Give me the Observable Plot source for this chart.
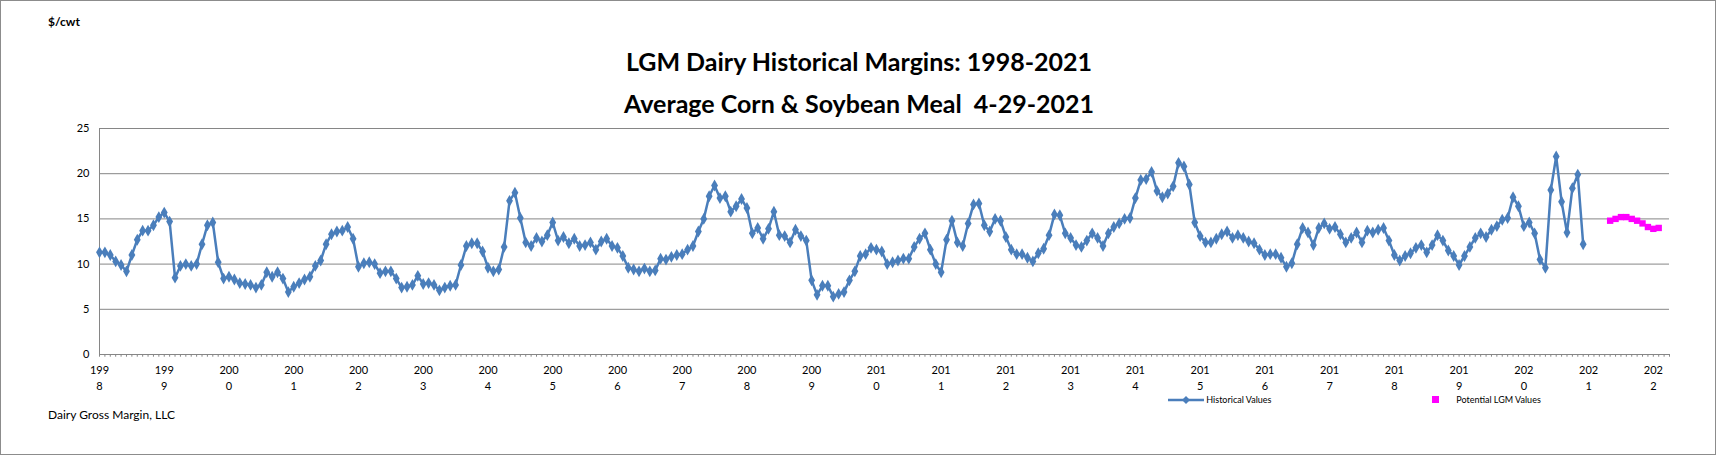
<!DOCTYPE html>
<html><head><meta charset="utf-8">
<script src="https://cdn.jsdelivr.net/npm/d3@7"></script>
<script src="https://cdn.jsdelivr.net/npm/@observablehq/plot@0.6"></script>
<style>
body{margin:0;background:#fff;font-family:Lato,"Open Sans",sans-serif}
#wrap{position:relative;width:1718px;height:457px;overflow:hidden}
#frame{position:absolute;left:0;top:0;width:1714px;height:453px;border:1px solid #8c8c8c}
.t{position:absolute;color:#000;white-space:nowrap}
</style></head><body>
<div id="wrap">
<div id="chart"></div>
<div id="frame"></div>
<div class="t" style="left:48px;top:14px;font-size:12px;font-weight:bold">$/cwt</div>
<div class="t" style="left:0;width:1718px;text-align:center;top:40px;font-size:25px;font-weight:bold;line-height:42px">LGM Dairy Historical Margins: 1998-2021<br>Average Corn &amp; Soybean Meal&nbsp; 4-29-2021</div>
<div class="t" style="left:48px;top:407px;font-size:12px">Dairy Gross Margin, LLC</div>
<div class="t" style="left:1168px;top:394px;font-size:9px;display:flex;align-items:center"><svg width="36" height="10"><line x1="0" y1="5" x2="36" y2="5" stroke="#4a7ebb" stroke-width="2.5"/><path d="M18 1 L22 5 L18 9 L14 5Z" fill="#4a7ebb"/></svg>&nbsp;Historical Values</div>
<div class="t" style="left:1418px;top:394px;font-size:9px;display:flex;align-items:center"><svg width="36" height="10"><rect x="14" y="1" width="7" height="7" fill="#ff00ff"/></svg>&nbsp;Potential LGM Values</div>
</div>
<script>
const startYear = 1998;
const historical = [
 11.3,11.3,11.0,10.3,9.9,9.2,11.0,12.7,13.7,13.7,14.3,15.2,
 15.7,14.7,8.5,9.8,10.0,9.8,10.0,12.2,14.3,14.6,10.2,8.4,
 8.6,8.3,7.9,7.8,7.7,7.4,7.7,9.1,8.6,9.1,8.4,6.9,
 7.5,7.9,8.3,8.6,9.8,10.4,12.2,13.3,13.6,13.7,14.1,12.8,
 9.7,10.1,10.2,10.0,9.0,9.2,9.2,8.4,7.4,7.5,7.7,8.7,
 7.8,7.9,7.7,7.1,7.4,7.6,7.7,9.9,12.0,12.3,12.3,11.4,
 9.6,9.2,9.4,11.9,17.0,17.9,15.1,12.4,12.0,12.9,12.5,13.2,
 14.6,12.6,13.0,12.3,12.8,12.0,12.1,12.4,11.6,12.5,12.8,12.0,
 11.8,10.9,9.6,9.4,9.2,9.5,9.2,9.3,10.6,10.5,10.8,11.0,
 11.1,11.6,12.0,13.6,15.0,17.5,18.7,17.3,17.5,15.8,16.4,17.2,
 16.2,13.4,14.0,12.8,13.9,15.8,13.2,13.1,12.4,13.8,13.1,12.6,
 8.2,6.6,7.6,7.6,6.4,6.7,6.9,8.2,9.2,10.9,11.1,11.8,
 11.6,11.4,10.0,10.2,10.4,10.6,10.6,11.9,12.8,13.4,11.6,10.0,
 9.1,12.7,14.8,12.4,12.0,14.5,16.6,16.7,14.3,13.6,15.0,14.8,
 13.0,11.6,11.1,11.1,10.7,10.3,11.2,11.7,13.2,15.5,15.4,13.4,
 12.9,12.1,11.9,12.6,13.4,12.9,12.0,13.4,14.1,14.5,15.0,15.1,
 17.3,19.3,19.4,20.2,18.1,17.4,17.8,18.6,21.2,20.8,18.8,14.6,
 13.1,12.4,12.4,12.8,13.3,13.6,12.9,13.2,12.9,12.5,12.3,11.6,
 11.0,11.1,11.1,10.7,9.7,10.1,12.2,14.0,13.5,12.1,14.0,14.5,
 13.9,14.1,13.3,12.4,12.9,13.5,12.4,13.7,13.5,13.8,14.0,12.6,
 11.0,10.4,10.9,11.2,11.8,12.1,11.3,12.1,13.2,12.6,11.5,10.9,
 9.9,10.9,11.9,12.9,13.4,13.0,13.8,14.2,14.9,15.1,17.4,16.4,
 14.2,14.6,13.4,10.5,9.6,18.2,21.9,16.9,13.5,18.4,19.9,12.2
];
const potentialStartMonth = 280;
const potential = [14.8,15.0,15.2,15.2,15.0,14.8,14.5,14.1,13.9,14.0];
const yTicks = [0,5,10,15,20,25];
const yearLabels = d3.range(1998, 2023);

const hist = historical.map((v,i)=>({m:i, v}));
const pot = potential.map((v,i)=>({m:potentialStartMonth+i, v}));
const months = d3.range(0, 292);
const ylab = yearLabels.map((y,i)=>({m:i*12, t:String(y).slice(0,3)+"\n"+String(y).slice(3)}));

const chart = Plot.plot({
  width:1718, height:457,
  marginLeft:99, marginRight:49, marginTop:128, marginBottom:103,
  style:{fontFamily:"Lato, 'Open Sans', sans-serif", fontSize:"11px", background:"transparent"},
  x:{domain:[0,291], axis:null},
  y:{domain:[0,25], axis:null},
  marks:[
    Plot.ruleY(yTicks.filter(d=>d>0), {stroke:"#868686", strokeWidth:1}),
    Plot.ruleY([0], {stroke:"#868686"}),
    Plot.ruleX([0], {stroke:"#868686"}),
    Plot.ruleX(months, {x:d=>d, y1:0, y2:-0.3, stroke:"#868686", strokeWidth:1}),
    Plot.text(yTicks, {x:0, y:d=>d, text:d=>String(d), dx:-10, textAnchor:"end", fontSize:11}),
    Plot.text(ylab, {x:"m", y:0, text:"t", dy:22, fontSize:11, lineHeight:1.45}),
    Plot.line(hist, {x:"m", y:"v", stroke:"#4a7ebb", strokeWidth:2.5}),
    Plot.dot(hist, {x:"m", y:"v", symbol:"diamond", r:3.6, fill:"#4a7ebb"}),
    Plot.dot(pot, {x:"m", y:"v", symbol:"square", r:3.6, fill:"#ff00ff"})
  ]
});
document.getElementById("chart").append(chart);
</script>
</body></html>
